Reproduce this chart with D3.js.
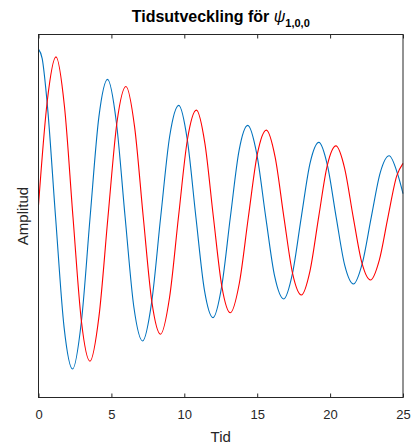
<!DOCTYPE html>
<html>
<head>
<meta charset="utf-8">
<script src="https://cdn.jsdelivr.net/npm/d3@7"></script>
<style>
  body { margin: 0; background: #fff; }
  svg { display: block; font-family: "Liberation Sans", Arial, sans-serif; }
  .axis-line { fill: none; stroke: #262626; stroke-width: 1; }
  .series { fill: none; stroke-width: 1.1; }
</style>
</head>
<body>
<svg width="414" height="445"></svg>
<script>
// values (time, amplitude)
const blueTime = [0, 0.25, 0.585, 1.17, 1.755, 2.34, 2.94, 3.54, 4.14, 4.74, 5.34, 5.94, 6.54, 7.14, 7.76, 8.38, 9.0, 9.62, 10.21, 10.795, 11.38, 11.97, 12.565, 13.16, 13.755, 14.35, 14.97, 15.585, 16.2, 16.82, 17.42, 18.025, 18.63, 19.23, 19.82, 20.415, 21.01, 21.6, 22.21, 22.825, 23.44, 24.05, 24.65, 25];
const blueAmp = [1.0, 0.945, 0.689, 0, -0.657, -0.905, -0.624, 0, 0.595, 0.82, 0.565, 0, -0.536, -0.738, -0.508, 0, 0.483, 0.665, 0.458, 0, -0.435, -0.599, -0.413, 0, 0.396, 0.546, 0.376, 0, -0.354, -0.488, -0.336, 0, 0.323, 0.445, 0.307, 0, -0.29, -0.399, -0.275, 0, 0.265, 0.365, 0.251, 0.14];

const redTime = [0, 0.6, 1.2, 1.7825, 2.365, 2.9475, 3.53, 4.1475, 4.765, 5.3825, 6.0, 6.5925, 7.185, 7.7775, 8.37, 8.985, 9.6, 10.215, 10.83, 11.4125, 11.995, 12.5775, 13.16, 13.7775, 14.395, 15.0125, 15.63, 16.23, 16.83, 17.43, 18.03, 18.6225, 19.215, 19.8075, 20.4, 20.9925, 21.585, 22.1775, 22.77, 23.37, 23.97, 24.57, 25];
const redAmp = [0.071, 0.69, 0.954, 0.657, 0, -0.624, -0.859, -0.592, 0, 0.565, 0.778, 0.536, 0, -0.507, -0.698, -0.481, 0, 0.462, 0.637, 0.439, 0, -0.414, -0.57, -0.393, 0, 0.376, 0.518, 0.357, 0, -0.337, -0.464, -0.32, 0, 0.308, 0.424, 0.292, 0, -0.272, -0.375, -0.258, 0, 0.245, 0.32];

const xTicks = [0, 5, 10, 15, 20, 25];
const xDomain = [0, 25];
const yDomain = [-1.075, 1.0875];

// axes box in pixels
const LEFT = 38.5;
const RIGHT = 403;
const TOP = 34.5;
const BOTTOM = 397.5;
const TICK_LEN = 4;
const TEXT_COLOR = "#262626";

const svg = d3.select("svg");

const x = d3.scaleLinear().domain(xDomain).range([LEFT, RIGHT]);
const y = d3.scaleLinear().domain(yDomain).range([BOTTOM, TOP]);

const series = [
  { color: "#0072BD", pts: blueTime.map((t, i) => [t, blueAmp[i]]) },
  { color: "#FF0000", pts: redTime.map((t, i) => [t, redAmp[i]]) }
];

const line = d3
  .line()
  .x(d => x(d[0]))
  .y(d => y(d[1]))
  .curve(d3.curveMonotoneX);

svg
  .append("g")
  .selectAll("path")
  .data(series)
  .join("path")
  .attr("class", "series")
  .attr("stroke", d => d.color)
  .attr("d", d => line(d.pts));

// bottom axis with inward ticks, plus mirrored ticks on top
const bottomAxis = d3
  .axisBottom(x)
  .tickValues(xTicks)
  .tickSize(-TICK_LEN)
  .tickPadding(12.5)
  .tickFormat(d3.format("d"));

const gx = svg
  .append("g")
  .attr("transform", `translate(0,${BOTTOM})`)
  .call(bottomAxis);
gx.select(".domain").remove();
gx.selectAll("line").attr("stroke", TEXT_COLOR);
gx.selectAll("text")
  .attr("fill", TEXT_COLOR)
  .attr("font-size", 13)
  .attr("font-family", "Liberation Sans, Arial, sans-serif");

const gtop = svg
  .append("g")
  .attr("transform", `translate(0,${TOP})`)
  .call(d3.axisTop(x).tickValues(xTicks).tickSize(-TICK_LEN).tickFormat(""));
gtop.select(".domain").remove();
gtop.selectAll("line").attr("stroke", TEXT_COLOR);

// frame
svg
  .append("rect")
  .attr("class", "axis-line")
  .attr("x", LEFT)
  .attr("y", TOP)
  .attr("width", RIGHT - LEFT)
  .attr("height", BOTTOM - TOP);

// labels
svg
  .append("text")
  .attr("x", (LEFT + RIGHT) / 2)
  .attr("y", 441.5)
  .attr("text-anchor", "middle")
  .attr("font-size", 15)
  .attr("fill", TEXT_COLOR)
  .text("Tid");

svg
  .append("text")
  .attr("transform", `translate(28,${(TOP + BOTTOM) / 2}) rotate(-90)`)
  .attr("text-anchor", "middle")
  .attr("font-size", 15)
  .attr("fill", TEXT_COLOR)
  .text("Amplitud");

const title = svg
  .append("text")
  .attr("x", (LEFT + RIGHT) / 2)
  .attr("y", 21.5)
  .attr("text-anchor", "middle")
  .attr("fill", "#000")
  .attr("font-weight", "bold")
  .attr("font-size", 16);
title.append("tspan").text("Tidsutveckling för ");
title.append("tspan").attr("font-style", "italic").attr("font-weight", "normal").text("ψ");
title.append("tspan").attr("font-size", 11).attr("dy", 5.5).text("1,0,0");
</script>
</body>
</html>
